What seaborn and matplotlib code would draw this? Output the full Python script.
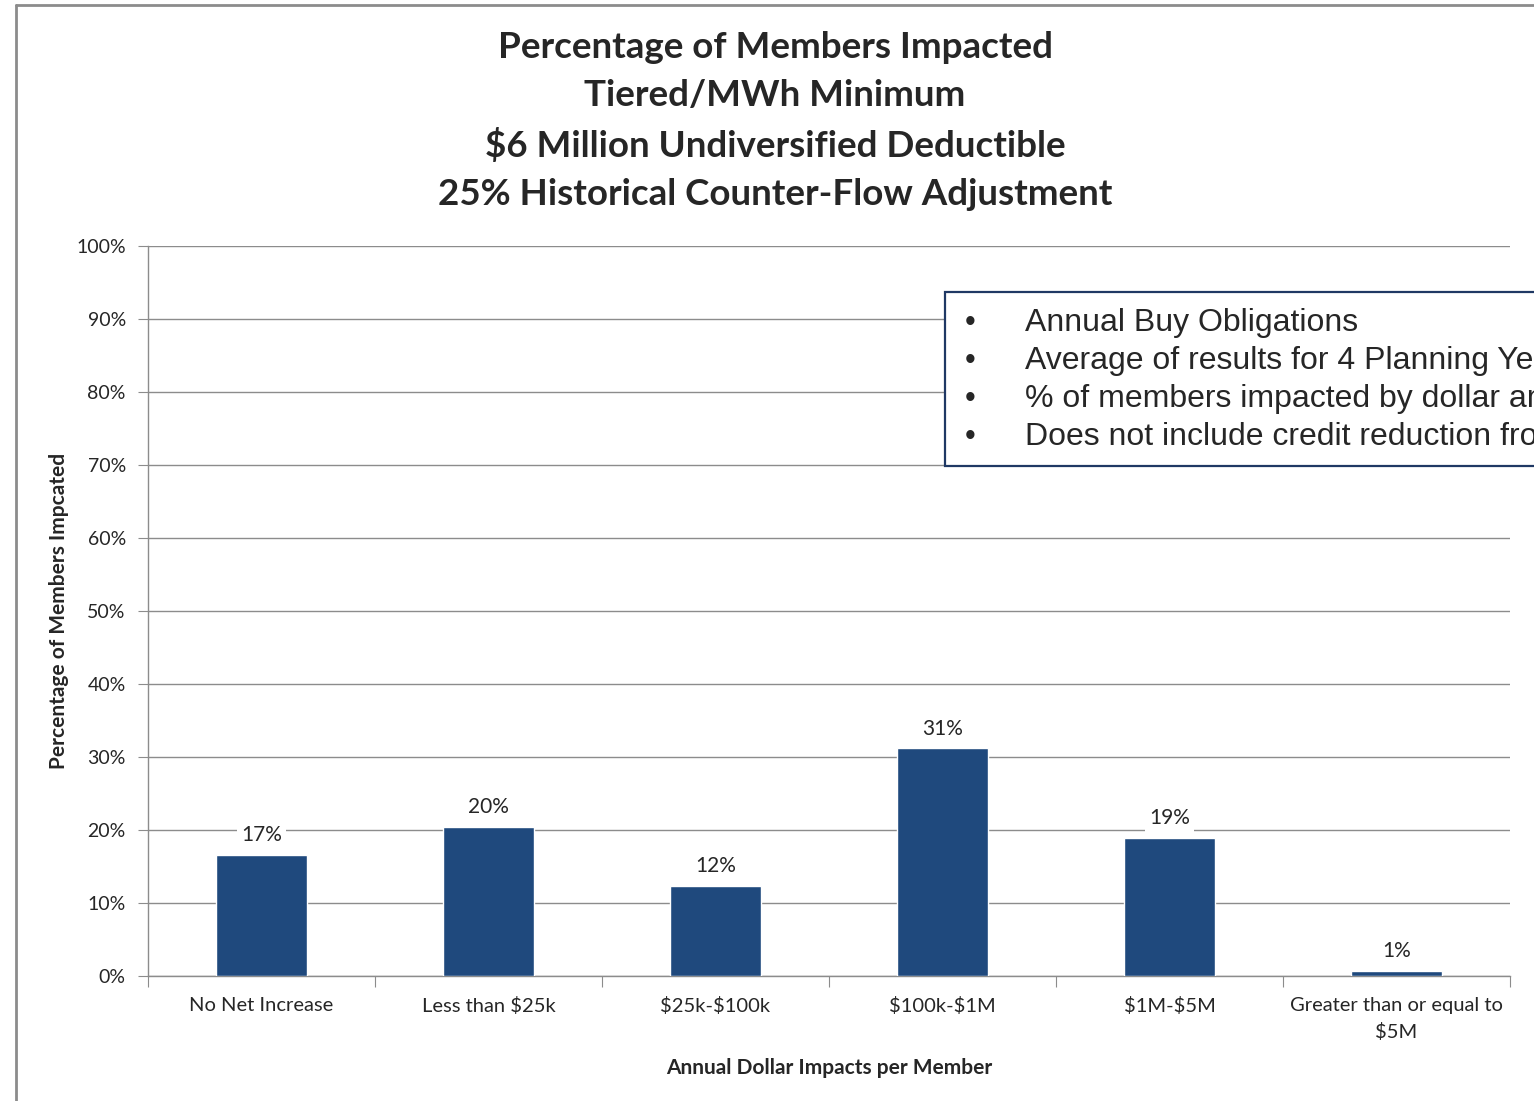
import matplotlib.pyplot as plt
import matplotlib.lines as mlines
import matplotlib.patches as mpatches
import pandas as pd
import seaborn as sns

# data
categories = ['No Net Increase', 'Less than \\$25k', '\\$25k-\\$100k', '\\$100k-\\$1M',
              '\\$1M-\\$5M', 'Greater than or equal to\n\\$5M']
values = [16.6, 20.4, 12.3, 31.2, 18.9, 0.7]
bar_labels = ['17%', '20%', '12%', '31%', '19%', '1%']
yticks = [0, 10, 20, 30, 40, 50, 60, 70, 80, 90, 100]
notes = ['Annual Buy Obligations',
         'Average of results for 4 Planning Years',
         '% of members impacted by dollar amount',
         'Does not include credit reduction from']

sns.set_style('white')
plt.rcParams['font.family'] = ['Lato', 'DejaVu Sans']

df = pd.DataFrame({'cat': categories, 'val': values})

fig = plt.figure(figsize=(15.34, 11.01), dpi=100)
ax = fig.add_axes([148 / 1534, 1 - 976 / 1101, 1362 / 1534, 730 / 1101])

sns.barplot(data=df, x='cat', y='val', color='#1F497D', saturation=1, width=0.4, ax=ax, zorder=3)

ax.set_ylim(0, 100)
ax.set_xlim(-0.5, 5.5)
ax.set_yticks(yticks)
ax.set_yticklabels([f'{t}%' for t in yticks], fontsize=14, color='#262626')
ax.yaxis.grid(True, color='#8c8c8c', linewidth=1)
ax.set_axisbelow(True)

# category boundary ticks on the x axis
ax.set_xticks([i - 0.5 for i in range(7)], minor=False)
ax.set_xticklabels([])
ax.set_xticks(range(6), minor=True)
ax.set_xticklabels(categories, minor=True, fontsize=14.5, color='#262626', linespacing=1.6)
ax.tick_params(axis='x', which='major', length=8, color='#8c8c8c', direction='out', bottom=True)
ax.tick_params(axis='x', which='minor', length=0, pad=15)
ax.tick_params(axis='y', length=7, color='#8c8c8c', direction='out', left=True, pad=9)

for side in ['top', 'right']:
    ax.spines[side].set_visible(False)
for side in ['left', 'bottom']:
    ax.spines[side].set_color('#8c8c8c')
    ax.spines[side].set_linewidth(1)

for i, (v, lab) in enumerate(zip(values, bar_labels)):
    ax.annotate(lab, (i, v), xytext=(0, 7), textcoords='offset points', ha='center', va='bottom',
                fontsize=15, color='#262626',
                bbox=dict(boxstyle='square,pad=0.2', fc='white', ec='none'), zorder=4)

ax.set_xlabel('Annual Dollar Impacts per Member', fontsize=15, fontweight='bold', labelpad=12)
ax.set_ylabel('Percentage of Members Impcated', fontsize=15, fontweight='bold', labelpad=5)

fig.text(775 / 1534, 1 - 121 / 1101,
         'Percentage of Members Impacted\nTiered/MWh Minimum\n\\$6 Million Undiversified Deductible\n'
         '25% Historical Counter-Flow Adjustment',
         ha='center', va='center', fontsize=26.5, fontweight='bold', linespacing=1.55)

# notes text box, running past the right edge as in the slide
fig.patches.append(mpatches.Rectangle((945 / 1534, 1 - 466 / 1101), 700 / 1534, 174 / 1101,
                                      transform=fig.transFigure, fc='white', ec='#1F3864', lw=1.6,
                                      zorder=5))
for j, line in enumerate(notes):
    y = 1 - (323 + j * 38) / 1101
    fig.text(970 / 1534, y, '\u2022', ha='center', va='center', fontsize=22,
             family=['Liberation Sans'], zorder=6)
    fig.text(1025 / 1534, y, line, ha='left', va='center', fontsize=23,
             family=['Liberation Sans'], zorder=6)

# slide frame lines
fig.lines.append(mlines.Line2D([16 / 1534, 16 / 1534], [0, 1 - 5 / 1101], transform=fig.transFigure,
                               color='#8c8c8c', lw=2))
fig.lines.append(mlines.Line2D([16 / 1534, 1], [1 - 5 / 1101, 1 - 5 / 1101], transform=fig.transFigure,
                               color='#8c8c8c', lw=2))

fig.savefig('out.png', dpi=100)
